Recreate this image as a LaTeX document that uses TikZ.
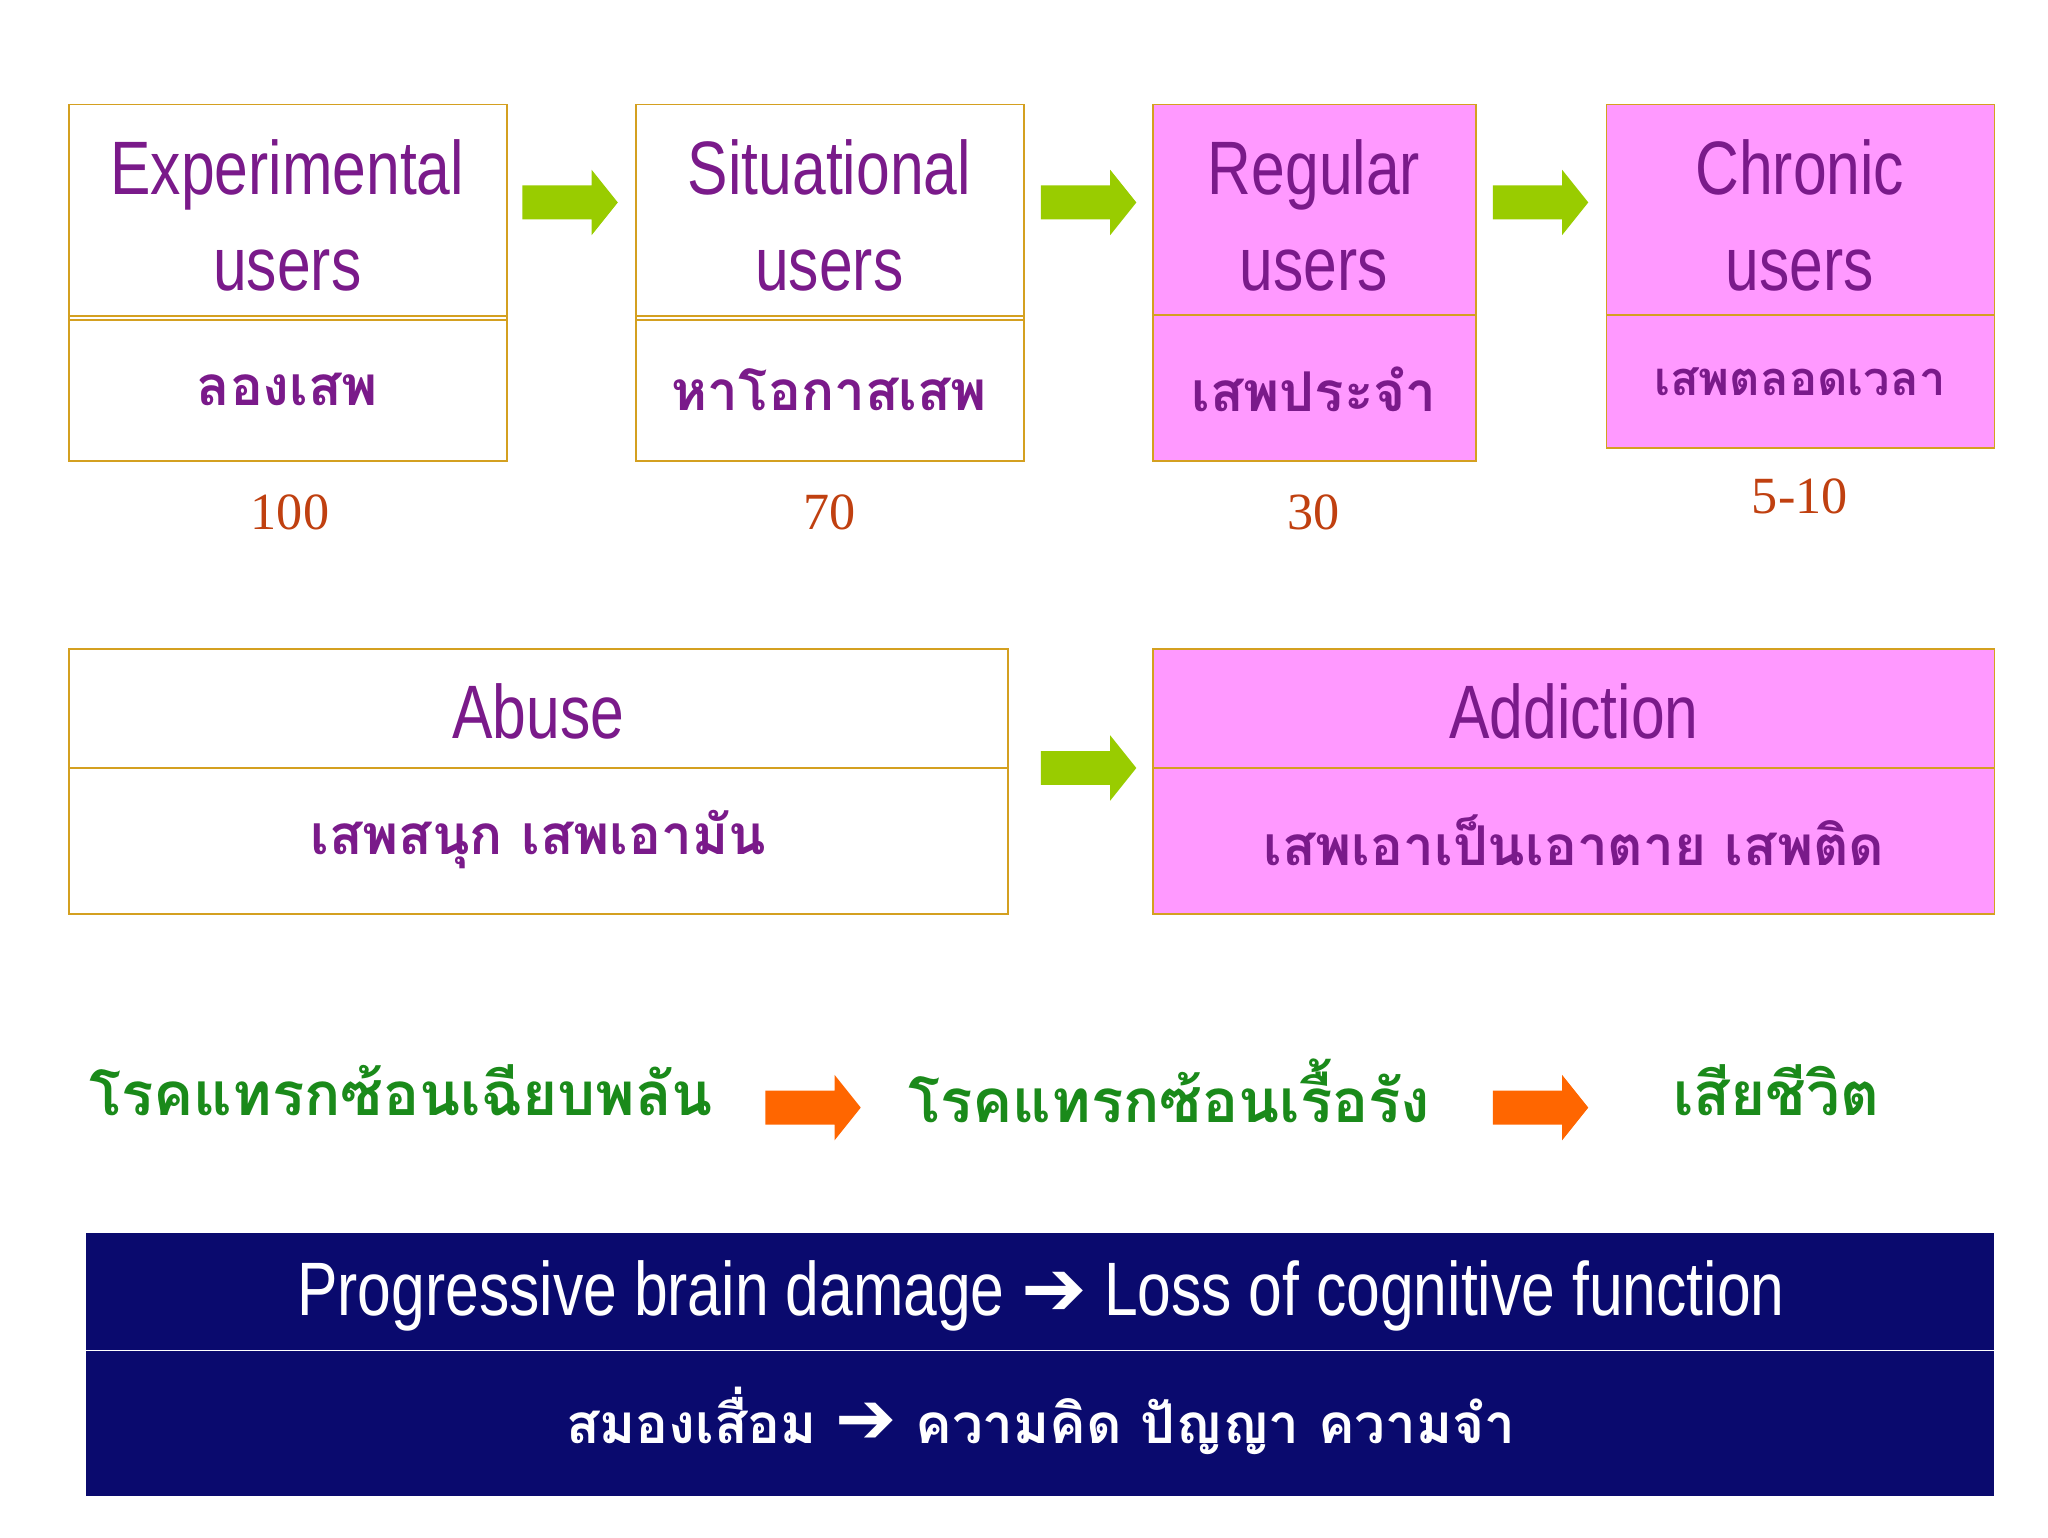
\documentclass[tikz,border=0pt]{standalone}
\usepackage{fontspec}
\setmainfont{Liberation Sans}[FakeStretch=0.8]
\newfontfamily\thai[Script=Thai]{Loma}
\newfontfamily\numf{Liberation Serif}
\newfontfamily\djv{DejaVu Sans}
\definecolor{purp}{HTML}{7A1A8A}
\definecolor{gold}{HTML}{D4A020}
\definecolor{pinkb}{HTML}{FF99FF}
\definecolor{grn}{HTML}{1A8A1A}
\definecolor{garrow}{HTML}{99CC00}
\definecolor{oarrow}{HTML}{FF6600}
\definecolor{navy}{HTML}{0A0A6E}
\definecolor{numc}{HTML}{C04010}
\tikzset{
 en/.style={font=\fontsize{58}{74}\selectfont, text=purp, align=center},
 th/.style={font=\thai\bfseries\fontsize{42}{48}\selectfont, text=purp},
 num/.style={font=\numf\fontsize{40}{44}\selectfont, text=numc},
 bx/.style={draw=gold, line width=1.3pt},
 gt/.style={font=\thai\bfseries\fontsize{46}{50}\selectfont, text=grn},
 wt/.style={text=white}
}
\newcommand\blkarrow[3]{\fill[#3] (#1,#2-13) -- (#1+53,#2-13) -- (#1+53,#2-25) -- (#1+73,#2) -- (#1+53,#2+25) -- (#1+53,#2+13) -- (#1,#2+13) -- cycle;}
\begin{document}
\begin{tikzpicture}[x=1pt,y=-1pt]
\useasboundingbox[fill=white] (0,0) rectangle (1568,1177);
\foreach \n/\a/\b/\c/\d/\f in {b1/53/388/245/353/white, b2/487/784/245/353/white, b3/883/1130/241/353/pinkb, b4/1230/1527/241/343/pinkb}{
  \fill[\f] (\a,80) rectangle (\b,\d);
  \draw[bx] (\a,80) rectangle (\b,\d);
  \draw[bx] (\a,\c) -- (\b,\c);
}
\draw[bx] (53,242) -- (388,242);
\draw[bx] (487,242) -- (784,242);
\node[en] (e1) at (220,165) {Experimental\\users};
\node[en] (e2) at (635,165) {Situational\\users};
\node[en] (e3) at (1006,165) {Regular\\users};
\node[en] (e4) at (1378,165) {Chronic\\users};
\node[th] (t1) at (220,298) {ลองเสพ};
\node[th] (t2) at (635,298) {หาโอกาสเสพ};
\node[th] (t3) at (1006,298) {เสพประจำ};
\node[th,font=\thai\bfseries\fontsize{36}{40}\selectfont] (t4) at (1378,292) {เสพตลอดเวลา};
\blkarrow{400}{155}{garrow}
\blkarrow{797}{155}{garrow}
\blkarrow{1143}{155}{garrow}
\node[num] (n1) at (222,392) {100};
\node[num] (n2) at (635,392) {70};
\node[num] (n3) at (1006,392) {30};
\node[num] (n4) at (1378,380) {5-10};
\draw[bx,fill=white] (53,497) rectangle (772,700);
\draw[bx] (53,588) -- (772,588);
\draw[bx,fill=pinkb] (883,497) rectangle (1527,700);
\draw[bx] (883,588) -- (1527,588);
\node[en] (ab) at (412,545) {Abuse};
\node[en] (ad) at (1205,545) {Addiction};
\node[th] (tab) at (412,643) {เสพสนุก เสพเอามัน};
\node[th] (tad) at (1205,643) {เสพเอาเป็นเอาตาย เสพติด};
\blkarrow{797}{588}{garrow}
\node[gt] (g1) at (307,835) {โรคแทรกซ้อนเฉียบพลัน};
\node[gt] (g2) at (895,835) {โรคแทรกซ้อนเรื้อรัง};
\node[gt] (g3) at (1360,835) {เสียชีวิต};
\blkarrow{586}{848}{oarrow}
\blkarrow{1143}{848}{oarrow}
\fill[navy] (66,944) rectangle (1527,1145);
\draw[white,line width=1pt] (66,1034) -- (1527,1034);
\node[wt,font=\fontsize{58}{60}\selectfont] (p1) at (797,992) {Progressive brain damage {\djv\bfseries\fontsize{60}{60}\selectfont ➔} Loss of cognitive function};
\node[wt,font=\thai\bfseries\fontsize{42}{48}\selectfont] (p2) at (797,1088) {สมองเสื่อม {\djv\bfseries\fontsize{56}{56}\selectfont ➔} ความคิด ปัญญา ความจำ};
\end{tikzpicture}
\end{document}
